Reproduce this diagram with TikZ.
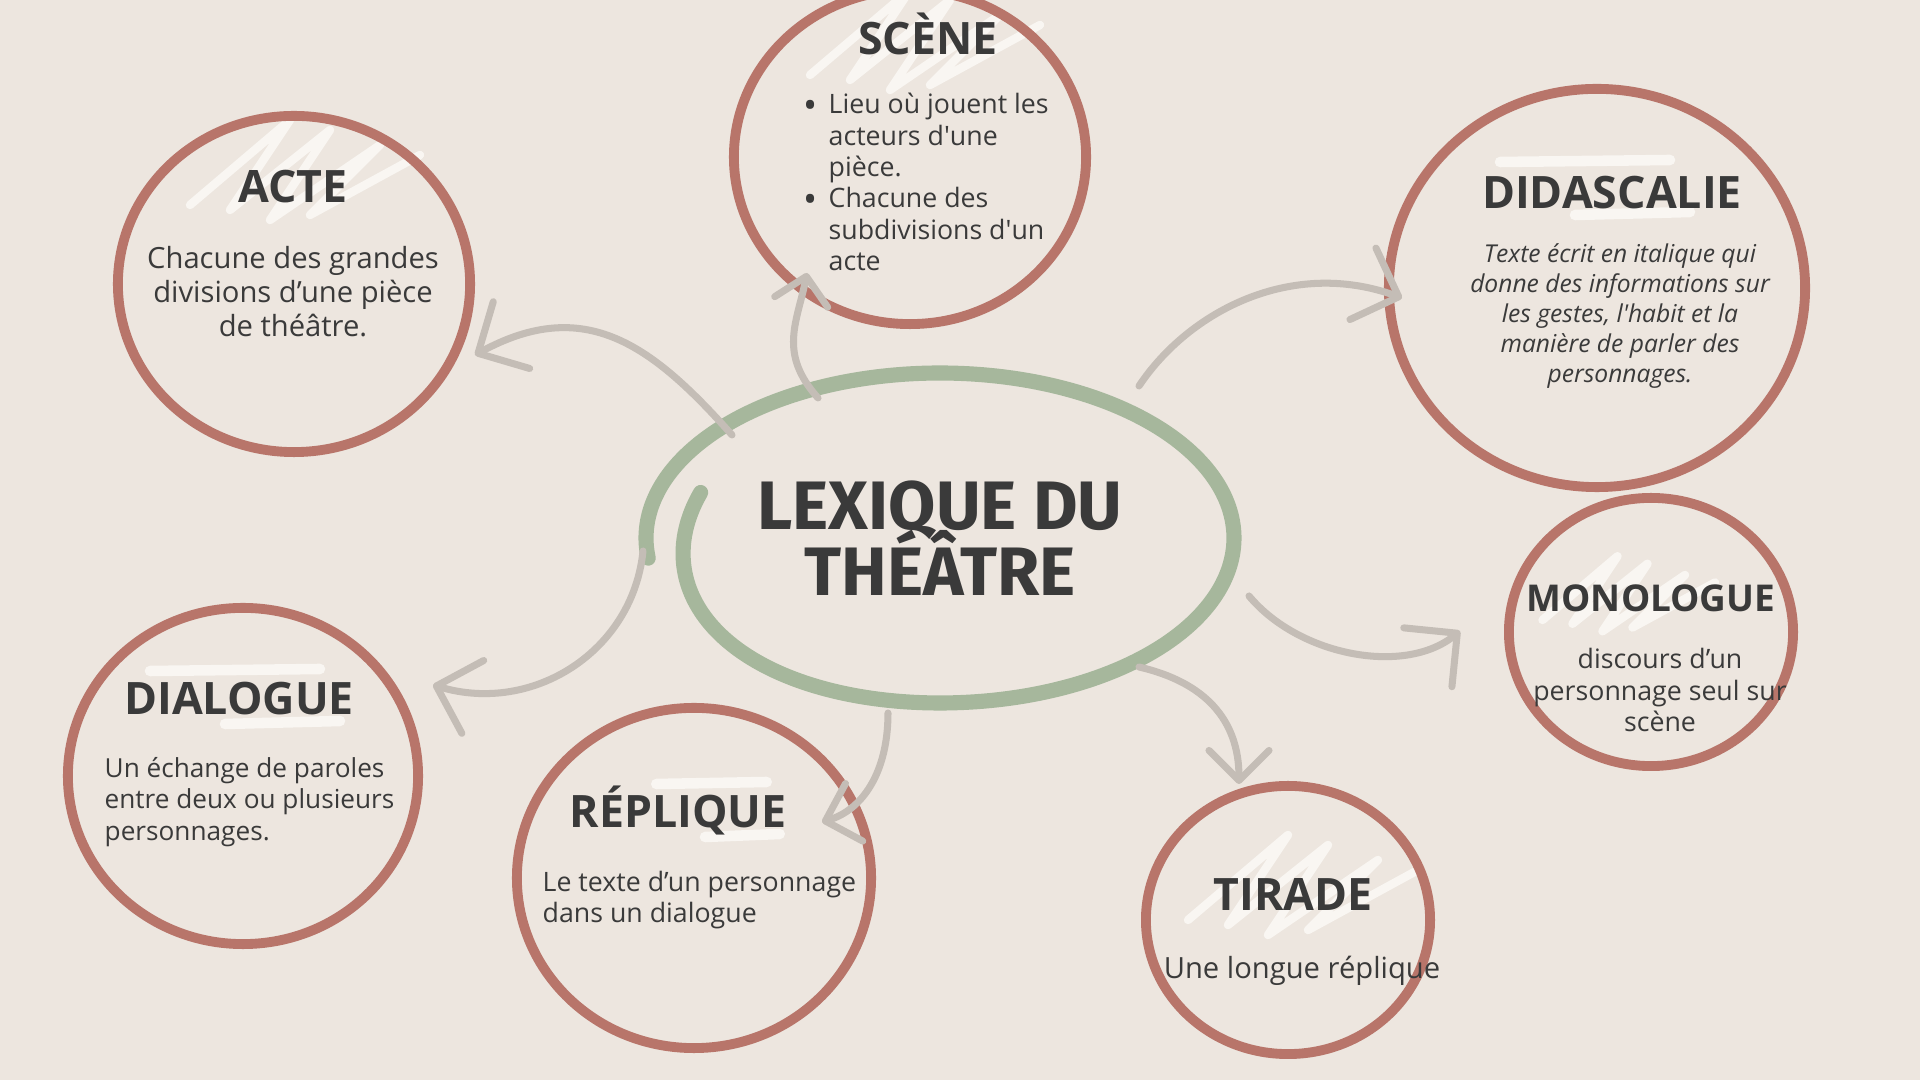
\documentclass[tikz,border=0pt]{standalone}
\usepackage{fontspec}
\setmainfont{Open Sans}
\newfontfamily\headfont{Fira Sans}
\usetikzlibrary{shapes.geometric,arrows.meta}

\definecolor{paper}{HTML}{EDE6DF}
\definecolor{brick}{HTML}{B8756A}
\definecolor{sage}{HTML}{A6B79C}
\definecolor{pebble}{HTML}{C4BDB6}
\definecolor{ink}{HTML}{3A3A3A}
\definecolor{chalk}{HTML}{F9F6F2}

\tikzset{
  ring/.style={ellipse, draw=brick, line width=2.8pt, inner sep=0pt, outer sep=0pt},
  term/.style={anchor=base, inner sep=0pt, text=ink,
               font=\fontsize{12.7}{14}\selectfont\bfseries},
  gloss/.style={inner sep=0pt, text=ink, align=center},
  link/.style={draw=pebble, line width=2pt, line cap=round,
               -{Straight Barb[length=3.8mm, width=7.6mm, round]}},
  scrib/.style={draw=chalk, line width=2.4pt, line cap=round, line join=round},
  zigzag/.pic={\draw[scrib] (-110,40) -- (-10,-45) -- (-70,45) -- (30,-35)
                 -- (-30,55) -- (80,-20) -- (10,50) -- (120,-10);},
  swash/.pic={\draw[scrib, line width=3pt] (-95,-26) -- (75,-28);
              \draw[scrib, line width=3pt] (-20,27) -- (95,24);}
}
\newcommand{\itemdot}{\makebox[7.1pt][l]{\raisebox{-1.4pt}{\scalebox{1.4}{\textbullet}}}}
\newcommand{\tightlines}{\lineskiplimit=-20pt\relax}

\begin{document}
\begin{tikzpicture}[x=0.01cm, y=-0.01cm]
    \useasboundingbox (0,0) rectangle (1920,1080);
    \fill[paper] (0,0) rectangle (1920,1080);

    \pic at (300,165) {zigzag};
    \pic at (920,35) {zigzag};
    \pic at (1298,880) {zigzag};
    \pic[scale=0.75] at (1625,590) {zigzag};
    \pic at (1595,188) {swash};
    \pic at (245,697) {swash};
    \pic[xscale=0.65] at (718,810) {swash};

    \node[ring, minimum width=3.52cm, minimum height=3.36cm] (acte)   at (294,284)  {};
    \node[ring, minimum width=3.52cm, minimum height=3.34cm] (scene)  at (910,157)  {};
    \node[ring, minimum width=4.16cm, minimum height=3.98cm] (didas)  at (1597,288) {};
    \node[ring, minimum width=2.84cm, minimum height=2.68cm] (mono)   at (1651,632) {};
    \node[ring, minimum width=2.84cm, minimum height=2.68cm] (tirade) at (1288,920) {};
    \node[ring, minimum width=3.54cm, minimum height=3.40cm] (repl)   at (694,878)  {};
    \node[ring, minimum width=3.50cm, minimum height=3.36cm] (dial)   at (243,776)  {};

    \draw[sage, line width=4.3pt, line cap=round]
      plot[domain=-187:196, samples=150, smooth]
      ({940 + (294 - 45*max(0,(\x-90)/106))*cos(\x)}, {538 + 165*sin(\x)});
    \node[ellipse, minimum width=5.89cm, minimum height=3.30cm, inner sep=0pt,
          align=center, text=ink,
          font={\headfont\fontsize{19.5}{18.6}\selectfont\bfseries\tightlines}] (lex) at (940,538)
      {LEXIQUE DU\\THÉÂTRE};

    \node[term] (acteT)   at (293,203)  {ACTE};
    \node[term] (sceneT)  at (928,55)   {SCÈNE};
    \node[term] (didasT)  at (1612,209) {DIDASCALIE};
    \node[term, font=\fontsize{10.5}{12}\selectfont\bfseries] (monoT) at (1651,612) {MONOLOGUE};
    \node[term] (tiradeT) at (1293,911) {TIRADE};
    \node[term] (replT)   at (678,828)  {RÉPLIQUE};
    \node[term] (dialT)   at (239,715)  {DIALOGUE};

    \node[gloss, font=\fontsize{8.3}{9.7}\selectfont] (acteD) at (293,292)
      {Chacune des grandes\\divisions d’une pièce\\de théâtre.};
    \node[gloss, anchor=west, align=left, font=\fontsize{7.6}{8.9}\selectfont] (sceneD) at (803,182)
      {\itemdot Lieu où jouent les\\
       \hspace*{7.1pt}acteurs d\textquotesingle une\\
       \hspace*{7.1pt}pièce.\\
       \itemdot Chacune des\\
       \hspace*{7.1pt}subdivisions d\textquotesingle un\\
       \hspace*{7.1pt}acte};
    \node[gloss, font=\fontsize{7}{8.5}\selectfont\itshape] (didasD) at (1620,316)
      {Texte écrit en italique qui\\donne des informations sur\\les gestes, l\textquotesingle habit et la\\manière de parler des\\personnages.};
    \node[gloss, font=\fontsize{7.6}{8.9}\selectfont] (monoD) at (1660,690)
      {discours d’un\\personnage seul sur\\scène};
    \node[gloss, font=\fontsize{8.3}{9.7}\selectfont] (tiradeD) at (1302,971)
      {Une longue réplique};
    \node[gloss, anchor=west, align=left, font=\fontsize{7.6}{9}\selectfont] (replD) at (542,900)
      {Le texte d’un personnage\\dans un dialogue};
    \node[gloss, anchor=west, align=left, font=\fontsize{7.45}{8.9}\selectfont] (dialD) at (104,802)
      {Un échange de paroles\\entre deux ou plusieurs\\personnages.};

    \draw[link] ([shift={(-208,-103)}]lex.center) .. controls +(-80,-90) and +(110,-60) .. ([shift={(181,71)}]acte.center);
    \draw[link, -{Straight Barb[length=2.6mm, width=5.4mm, round]}] ([shift={(-122,-140)}]lex.center) .. controls +(-40,-45) and +(-10,50) .. ([shift={(-103,116)}]scene.center);
    \draw[link] ([shift={(199,-152)}]lex.center) .. controls +(50,-75) and +(-110,-40) .. ([shift={(-195,10)}]didas.center);
    \draw[link] ([shift={(309,58)}]lex.center) .. controls +(50,60) and +(-55,45) .. ([shift={(-191,-1)}]mono.center);
    \draw[link, -{Straight Barb[length=3mm, width=6mm, round]}] ([shift={(199,129)}]lex.center) .. controls +(65,15) and +(0,-65) .. ([shift={(-49,-136)}]tirade.center);
    \draw[link, -{Straight Barb[length=3mm, width=6mm, round]}] ([shift={(-52,175)}]lex.center) .. controls +(0,60) and +(40,-12) .. ([shift={(128,-56)}]repl.center);
    \draw[link] ([shift={(-297,13)}]lex.center) .. controls +(-10,100) and +(100,30) .. ([shift={(190,-91)}]dial.center);
\end{tikzpicture}
\end{document}
